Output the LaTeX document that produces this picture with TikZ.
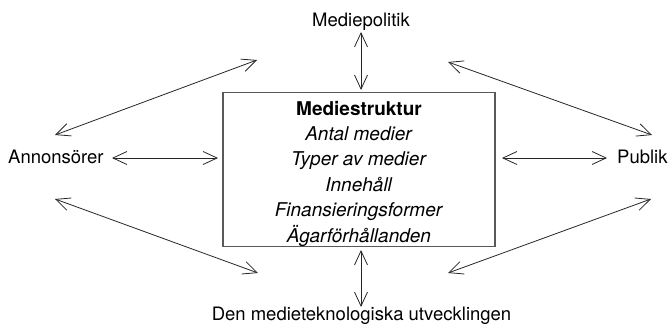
\documentclass[tikz,border=0pt]{standalone}
\usepackage{fontspec}
\setmainfont{TeX Gyre Heros}
\usetikzlibrary{arrows.meta}
\tikzset{
  arr/.style={{Straight Barb[length=14pt,width=13pt]}-{Straight Barb[length=14pt,width=13pt]}, line width=0.8pt, black!85},
  lbl/.style={font=\fontsize{18.5}{22}\selectfont, inner sep=0pt},
  boxstyle/.style={draw=black!65, line width=1.1pt, minimum width=272pt, minimum height=154.5pt, inner sep=0pt},
  boxtext/.style={align=center, font=\fontsize{19}{25.4}\selectfont, inner sep=0pt}
}
\begin{document}
\begin{tikzpicture}[x=1pt,y=-1pt]
\useasboundingbox (0,0) rectangle (669,324);
\node[boxstyle] (box) at (359,169.3) {};
\node[boxtext] (bt) at (359,173.5) {\textbf{Mediestruktur}\\ \textit{Antal medier}\\ \textit{Typer av medier}\\ \textit{Innehåll}\\ \textit{Finansieringsformer}\\ \textit{Ägarförhållanden}};
\node[lbl, anchor=base] (mp) at (361,26) {Mediepolitik};
\node[lbl, anchor=base] (dm) at (361.5,320.5) {Den medieteknologiska utvecklingen};
\node[lbl, anchor=base west] (an) at (8,163) {Annonsörer};
\node[lbl, anchor=base west] (pu) at (617,163) {Publik};
% arrow ends
\coordinate (mpA) at (361,32);   \coordinate (mpB) at (361,90);
\coordinate (dmA) at (361,250);  \coordinate (dmB) at (361,307);
\coordinate (anA) at (112,158);  \coordinate (anB) at (218,158);
\coordinate (puA) at (502,158);  \coordinate (puB) at (607,158);
\coordinate (ulA) at (55,135);   \coordinate (ulB) at (257,60);
\coordinate (urA) at (448,62);   \coordinate (urB) at (652,135);
\coordinate (llA) at (55,199);   \coordinate (llB) at (258,273);
\coordinate (lrA) at (651,199);  \coordinate (lrB) at (448,273);
\draw[arr] (mpA) -- (mpB);
\draw[arr] (dmA) -- (dmB);
\draw[arr] (anA) -- (anB);
\draw[arr] (puA) -- (puB);
\draw[arr] (ulA) -- (ulB);
\draw[arr] (urA) -- (urB);
\draw[arr] (llA) -- (llB);
\draw[arr] (lrA) -- (lrB);
\end{tikzpicture}
\end{document}
